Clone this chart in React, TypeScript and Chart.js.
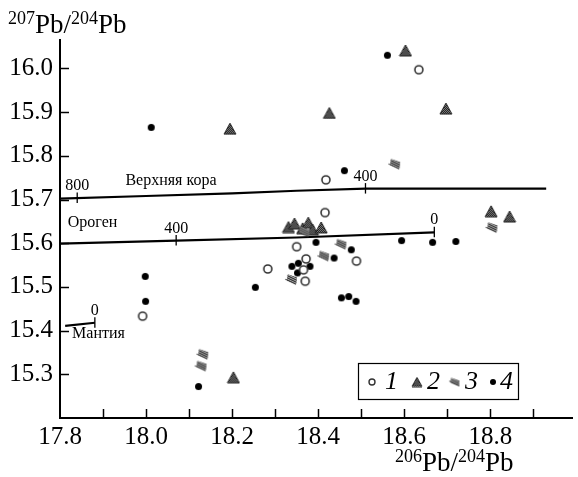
import React, { useEffect, useRef } from "react";
import { Chart, registerables } from "chart.js";
Chart.register(...registerables);

const FONT = '"Liberation Serif", "DejaVu Serif", "Times New Roman", serif';

// axes
const xMin = 17.8, xMax = 18.99, yMin = 15.2, yMax = 16.065;
const xTickValues = [17.8, 17.9, 18.0, 18.1, 18.2, 18.3, 18.4, 18.5, 18.6, 18.7, 18.8, 18.9];
const xTickLabels = ["17.8", "18.0", "18.2", "18.4", "18.6", "18.8"];
const yTickValues = [15.3, 15.4, 15.5, 15.6, 15.7, 15.8, 15.9, 16.0];
const yTickLabels = ["15.3", "15.4", "15.5", "15.6", "15.7", "15.8", "15.9", "16.0"];

// series 1: open circles
const s1X = [17.992, 18.283, 18.350, 18.372, 18.366, 18.370, 18.416, 18.418, 18.634, 18.489];
const s1Y = [15.433, 15.541, 15.592, 15.564, 15.539, 15.513, 15.670, 15.745, 15.997, 15.559];
// series 2: hatched triangles
const s2X = [18.603, 18.426, 18.697, 18.195, 18.203, 18.802, 18.845, 18.331, 18.345, 18.364, 18.377, 18.387, 18.407];
const s2Y = [16.041, 15.898, 15.908, 15.862, 15.293, 15.673, 15.661, 15.637, 15.645, 15.634, 15.647, 15.631, 15.636];
// series 3: hatched lozenges
const s3X = [18.579, 18.805, 18.133, 18.129, 18.454, 18.414, 18.339, 18.368];
const s3Y = [15.782, 15.637, 15.347, 15.320, 15.599, 15.572, 15.518, 15.627];
// series 4: filled dots
const s4X = [18.561, 18.012, 17.998, 17.999, 18.122, 18.254, 18.461, 18.594, 18.666, 18.720, 18.395, 18.477, 18.437, 18.454, 18.471, 18.488, 18.339, 18.354, 18.352, 18.381];
const s4Y = [16.030, 15.865, 15.524, 15.467, 15.272, 15.499, 15.766, 15.606, 15.602, 15.604, 15.602, 15.585, 15.566, 15.475, 15.478, 15.467, 15.547, 15.554, 15.532, 15.547];

const legendLabels = ["1", "2", "3", "4"];

// model growth curves
const crustX = [17.8, 18.0, 18.2, 18.35, 18.51, 18.93];
const crustY = [15.702, 15.708, 15.714, 15.720, 15.725, 15.725];
const crustAgeX = [17.84, 18.51];
const crustAgeLabels = ["800", "400"];
const orogenX = [17.8, 18.07, 18.35, 18.67];
const orogenY = [15.599, 15.606, 15.613, 15.625];
const orogenAgeX = [18.07, 18.67];
const orogenAgeLabels = ["400", "0"];
const mantleX = [17.812, 17.881];
const mantleY = [15.411, 15.418];
const mantleAgeX = [17.881];
const mantleAgeLabels = ["0"];

const curveNames = ["Верхняя кора", "Ороген", "Мантия"];
const curveNameX = [17.952, 17.818, 17.828];
const curveNameY = [15.734, 15.636, 15.382];

function pts(xs: number[], ys: number[]) {
  return xs.map((x, i) => ({ x, y: ys[i] }));
}

function interp(xs: number[], ys: number[], x: number) {
  for (let i = 0; i < xs.length - 1; i++) {
    if (x >= xs[i] && x <= xs[i + 1]) {
      const t = (x - xs[i]) / (xs[i + 1] - xs[i]);
      return ys[i] + t * (ys[i + 1] - ys[i]);
    }
  }
  return ys[ys.length - 1];
}

function mk(w: number, h: number) {
  const c = document.createElement("canvas");
  c.width = w;
  c.height = h;
  return c;
}

function circleImg(d: number, lw: number) {
  const s = Math.ceil(d + lw + 2);
  const c = mk(s, s);
  const g = c.getContext("2d")!;
  g.beginPath();
  g.arc(s / 2, s / 2, d / 2, 0, Math.PI * 2);
  g.fillStyle = "#fff";
  g.fill();
  g.lineWidth = lw;
  g.strokeStyle = "#333";
  g.stroke();
  return c;
}

function dotImg(d: number) {
  const s = Math.ceil(d + 2);
  const c = mk(s, s);
  const g = c.getContext("2d")!;
  g.beginPath();
  g.arc(s / 2, s / 2, d / 2, 0, Math.PI * 2);
  g.fillStyle = "#000";
  g.fill();
  return c;
}

function checker(g: CanvasRenderingContext2D, dark: string, light: string) {
  const p = mk(2, 2);
  const pg = p.getContext("2d")!;
  pg.fillStyle = light;
  pg.fillRect(0, 0, 2, 2);
  pg.fillStyle = dark;
  pg.fillRect(0, 0, 1, 1);
  pg.fillRect(1, 1, 1, 1);
  return g.createPattern(p, "repeat")!;
}

function triImg(w: number, h: number) {
  const c = mk(w + 2, h + 2);
  const g = c.getContext("2d")!;
  g.beginPath();
  g.moveTo(1 + w / 2, 1);
  g.lineTo(1 + w, 1 + h);
  g.lineTo(1, 1 + h);
  g.closePath();
  g.fillStyle = checker(g, "#111", "#8a8a8a");
  g.fill();
  g.lineWidth = 1;
  g.strokeStyle = "#222";
  g.stroke();
  return c;
}

function lozImg(w: number, h: number) {
  const s = Math.ceil(Math.max(w, h) + 4);
  const c = mk(s, s);
  const g = c.getContext("2d")!;
  g.translate(s / 2, s / 2);
  g.rotate(0.45);
  g.beginPath();
  g.moveTo(-w / 2, -h / 2 + 1);
  g.lineTo(w / 2 - 2, -h / 2);
  g.lineTo(w / 2, h / 2 - 1);
  g.lineTo(-w / 2 + 2, h / 2);
  g.closePath();
  g.fillStyle = "#bbb";
  g.fill();
  g.save();
  g.clip();
  g.strokeStyle = "#222";
  g.lineWidth = 1;
  for (let y = -h / 2 + 0.5; y <= h / 2; y += 2) {
    g.beginPath();
    g.moveTo(-w / 2, y);
    g.lineTo(w / 2, y);
    g.stroke();
  }
  g.restore();
  g.lineWidth = 1;
  g.strokeStyle = "#333";
  g.stroke();
  return c;
}

function drawPb(ctx: CanvasRenderingContext2D, x: number, base: number, a: string, b: string) {
  ctx.fillStyle = "#000";
  ctx.textBaseline = "alphabetic";
  ctx.textAlign = "left";
  const big = `27px ${FONT}`;
  const sm = `18px ${FONT}`;
  const off = 9;
  ctx.font = sm;
  ctx.fillText(a, x, base - off);
  x += ctx.measureText(a).width;
  ctx.font = big;
  ctx.fillText("Pb/", x, base);
  x += ctx.measureText("Pb/").width;
  ctx.font = sm;
  ctx.fillText(b, x, base - off);
  x += ctx.measureText(b).width;
  ctx.font = big;
  ctx.fillText("Pb", x, base);
}

export default function App() {
  const ref = useRef<HTMLCanvasElement>(null);
  useEffect(() => {
    const canvas = ref.current!;
    const imgCircle = circleImg(8, 1.6);
    const imgTri = triImg(12, 11);
    const imgLoz = lozImg(12, 7);
    const imgDot = dotImg(7);
    const lgCircle = circleImg(6, 1.4);
    const lgTri = triImg(10, 9);
    const lgLoz = lozImg(11, 6);
    const lgDot = dotImg(6);

    const overlay = {
      id: "overlay",
      afterDatasetsDraw(chart: any) {
        const ctx: CanvasRenderingContext2D = chart.ctx;
        const xs = chart.scales.x;
        const ys = chart.scales.y;
        const area = chart.chartArea;
        ctx.save();
        ctx.strokeStyle = "#000";
        ctx.lineWidth = 1.5;
        xTickValues.forEach((v) => {
          if (v === xMin) return;
          const px = Math.round(xs.getPixelForValue(v)) + 0.5;
          ctx.beginPath();
          ctx.moveTo(px, area.bottom);
          ctx.lineTo(px, area.bottom - 9);
          ctx.stroke();
        });
        yTickValues.forEach((v) => {
          const py = Math.round(ys.getPixelForValue(v)) + 0.5;
          ctx.beginPath();
          ctx.moveTo(area.left, py);
          ctx.lineTo(area.left + 9, py);
          ctx.stroke();
        });
        const ageSets: [number[], number[], number[], string[]][] = [
          [crustX, crustY, crustAgeX, crustAgeLabels],
          [orogenX, orogenY, orogenAgeX, orogenAgeLabels],
          [mantleX, mantleY, mantleAgeX, mantleAgeLabels],
        ];
        ctx.font = `16px ${FONT}`;
        ctx.fillStyle = "#000";
        ctx.textAlign = "center";
        ctx.textBaseline = "alphabetic";
        ctx.lineWidth = 1.3;
        ageSets.forEach(([cx, cy, ax, al]) => {
          ax.forEach((a, i) => {
            const px = xs.getPixelForValue(a);
            const py = ys.getPixelForValue(interp(cx, cy, a));
            ctx.beginPath();
            ctx.moveTo(px, py - 5.5);
            ctx.lineTo(px, py + 5);
            ctx.stroke();
            ctx.fillText(al[i], px, py - 8);
          });
        });
        ctx.textAlign = "left";
        curveNames.forEach((n, i) => {
          ctx.fillText(n, xs.getPixelForValue(curveNameX[i]), ys.getPixelForValue(curveNameY[i]));
        });
        drawPb(ctx, 8, 33, "207", "204");
        drawPb(ctx, 395, 471, "206", "204");
        const lx = 358, ly = 363, lw = 160, lh = 36;
        ctx.fillStyle = "#fff";
        ctx.fillRect(lx, ly, lw, lh);
        ctx.strokeStyle = "#000";
        ctx.lineWidth = 1.2;
        ctx.strokeRect(lx + 0.5, ly + 0.5, lw, lh);
        const imgs = [lgCircle, lgTri, lgLoz, lgDot];
        const ix = [372, 417, 455, 493];
        const tx = [385, 427, 465, 500];
        ctx.font = `italic 26px ${FONT}`;
        ctx.fillStyle = "#000";
        legendLabels.forEach((l, i) => {
          const im = imgs[i];
          ctx.drawImage(im, ix[i] - im.width / 2, 382 - im.height / 2);
          ctx.fillText(l, tx[i], 389);
        });
        ctx.restore();
      },
    };

    const lineDs = (xs: number[], ys: number[]) => ({
      data: pts(xs, ys),
      showLine: true,
      borderColor: "#000",
      borderWidth: 2.2,
      pointRadius: 0,
      pointHoverRadius: 0,
      order: 10,
      tension: 0,
    });
    const ptDs = (xs: number[], ys: number[], img: HTMLCanvasElement) => ({
      data: pts(xs, ys),
      showLine: false,
      pointStyle: img,
      pointRadius: 5,
      order: 0,
    });

    const chart = new Chart(canvas, {
      type: "scatter",
      data: {
        datasets: [
          lineDs(crustX, crustY),
          lineDs(orogenX, orogenY),
          lineDs(mantleX, mantleY),
          ptDs(s3X, s3Y, imgLoz),
          ptDs(s2X, s2Y, imgTri),
          ptDs(s1X, s1Y, imgCircle),
          ptDs(s4X, s4Y, imgDot),
        ] as any,
      },
      options: {
        animation: false,
        responsive: false,
        maintainAspectRatio: false,
        layout: { padding: { top: 40, right: 0, left: 0, bottom: 0 } },
        plugins: { legend: { display: false }, tooltip: { enabled: false } },
        scales: {
          x: {
            type: "linear",
            min: xMin,
            max: xMax,
            afterBuildTicks: (s: any) => {
              s.ticks = xTickValues.map((v) => ({ value: v }));
            },
            afterFit: (s: any) => {
              s.height = 59;
            },
            grid: { display: false, drawTicks: false },
            border: { display: true, color: "#000", width: 2 },
            ticks: {
              autoSkip: false,
              maxRotation: 0,
              padding: 4,
              color: "#000",
              font: { family: FONT, size: 25 },
              callback: (v: any) => {
                const s = Number(v).toFixed(1);
                return xTickLabels.includes(s) ? s : "";
              },
            },
          },
          y: {
            type: "linear",
            min: yMin,
            max: yMax,
            afterBuildTicks: (s: any) => {
              s.ticks = yTickValues.map((v) => ({ value: v }));
            },
            afterFit: (s: any) => {
              s.width = 60;
            },
            grid: { display: false, drawTicks: false },
            border: { display: true, color: "#000", width: 2 },
            ticks: {
              autoSkip: false,
              padding: 7,
              color: "#000",
              font: { family: FONT, size: 25 },
              callback: (v: any) => {
                const s = Number(v).toFixed(1);
                return yTickLabels.includes(s) ? s : "";
              },
            },
          },
        },
      },
      plugins: [overlay],
    } as any);
    const fonts: any = (document as any).fonts;
    if (fonts && fonts.load) {
      Promise.all([
        fonts.load(`25px "Liberation Serif"`),
        fonts.load(`italic 26px "Liberation Serif"`),
        fonts.load(`16px "Liberation Serif"`),
      ]).then(() => {
        try { chart.update(); } catch (e) {}
      }).catch(() => {});
    }
    return () => chart.destroy();
  }, []);

  return (
    <div style={{ position: "fixed", left: 0, top: 0, width: 578, height: 477, background: "#fff" }}>
      <canvas ref={ref} width={578} height={477} style={{ display: "block", width: 578, height: 477 }} />
    </div>
  );
}
